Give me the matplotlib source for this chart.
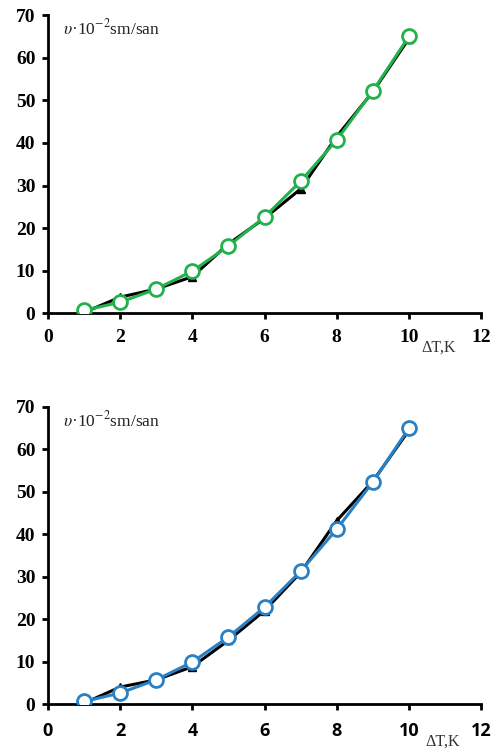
import matplotlib.pyplot as plt

plt.rcParams["mathtext.fontset"] = "stix"

# data
dT = [1, 2, 3, 4, 5, 6, 7, 8, 9, 10]

top_black = [0.2, 3.8, 5.7, 8.6, 16.3, 22.3, 29.2, 41.5, 52.0, 64.5]
top_green = [0.7, 2.6, 5.7, 9.9, 15.8, 22.6, 31.0, 40.7, 52.2, 65.0]

bot_black = [0.2, 4.0, 5.7, 8.8, 15.0, 22.0, 31.0, 43.2, 52.5, 64.5]
bot_blue = [0.6, 2.6, 5.7, 9.9, 15.8, 22.8, 31.3, 41.2, 52.3, 65.0]

xticks = [0, 2, 4, 6, 8, 10, 12]
yticks = [0, 10, 20, 30, 40, 50, 60, 70]

fig = plt.figure(figsize=(4.94, 7.55), dpi=100)
ax1 = fig.add_axes([0.097, 0.585, 0.877, 0.395])
ax2 = fig.add_axes([0.097, 0.0675, 0.877, 0.3935])


def style(ax, black, vals, col, xfam, xpad):
    ax.plot(dT, black, color="black", lw=2.2, marker="^", ms=6,
            mfc="black", mec="black", zorder=2)
    ax.plot(dT, vals, color=col, lw=2.2, marker="o", ms=10,
            mfc="white", mec=col, mew=2, zorder=3)
    ax.set_xlim(0, 12)
    ax.set_ylim(0, 70)
    ax.set_xticks(xticks)
    ax.set_yticks(yticks)
    for s in ["top", "right"]:
        ax.spines[s].set_visible(False)
    for s in ["left", "bottom"]:
        ax.spines[s].set_linewidth(2)
    ax.tick_params(direction="out", length=4, width=2)
    ax.tick_params(axis="y", pad=5)
    ax.tick_params(axis="x", pad=xpad)
    for lab in ax.get_yticklabels():
        lab.set_fontfamily("Liberation Serif")
        lab.set_fontweight("bold")
        lab.set_fontsize(14)
    for lab in ax.get_xticklabels():
        lab.set_fontfamily(xfam)
        lab.set_fontweight("bold")
        lab.set_fontsize(14 if xfam == "Liberation Serif" else 13)
    ax.text(0.035, 0.99, r"$\upsilon$·10$^{-2}$sm/san", transform=ax.transAxes,
            ha="left", va="top", fontsize=12.5, family="Liberation Serif",
            color="#222222")


style(ax1, top_black, top_green, "#22b24c", "Liberation Serif", 7)
style(ax2, bot_black, bot_blue, "#2a80c4", "Open Sans", 9)

ax1.text(10.35, -6.2, "ΔT,K", ha="left", va="top", fontsize=11.5,
         family="Liberation Serif", color="#333333")
ax2.text(10.45, -7.0, "ΔT,K", ha="left", va="top", fontsize=11.5,
         family="Liberation Serif", color="#333333")

fig.savefig("out.png", dpi=100)
